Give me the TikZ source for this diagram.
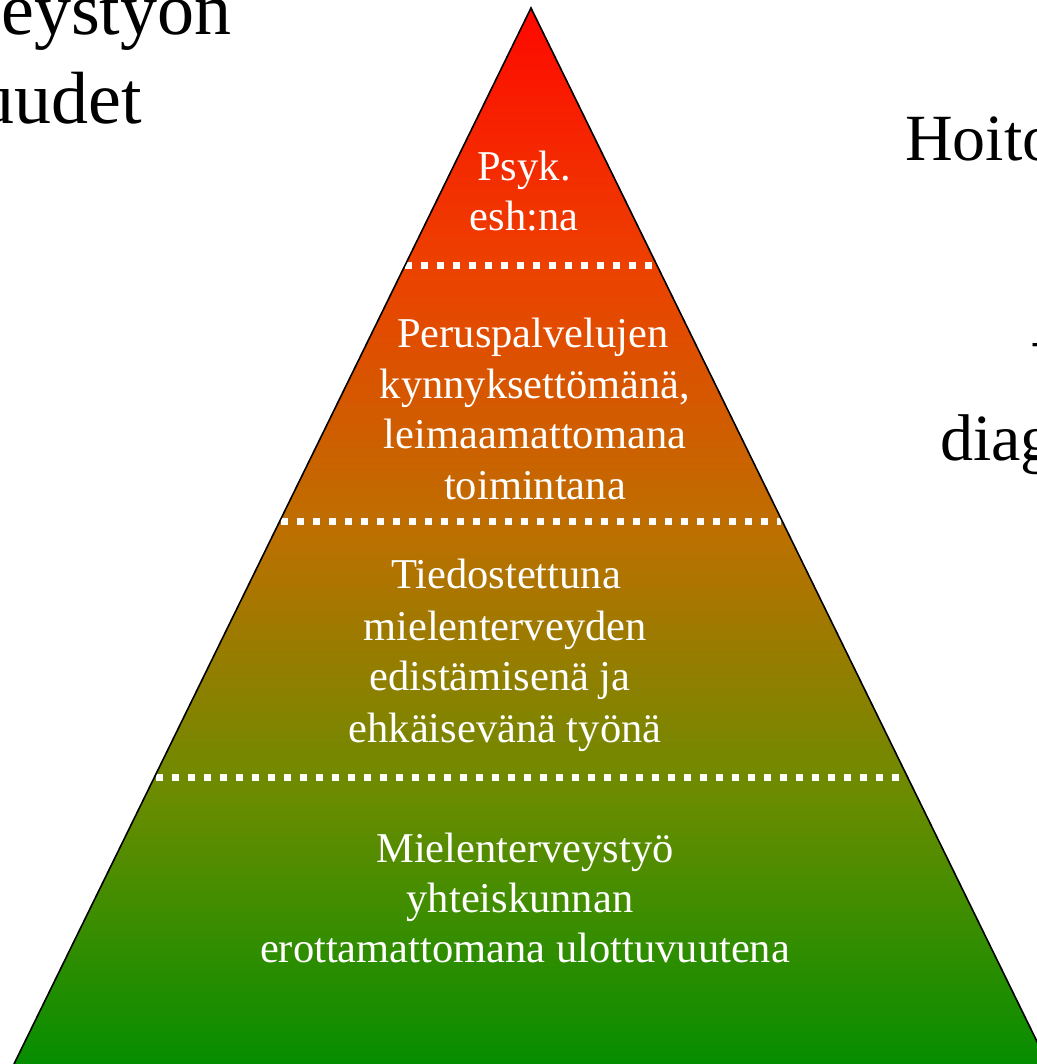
\documentclass[tikz,border=0pt]{standalone}
\usepackage{fontspec}
\setmainfont{Liberation Serif}
\newcommand\pyrfnt{\fontsize{42.5bp}{51bp}\selectfont}
\newcommand\outfnt{\fontsize{74bp}{88bp}\selectfont}
\newcommand\sidefnt{\fontsize{66bp}{80bp}\selectfont}
\definecolor{cA}{RGB}{255,8,0}
\definecolor{cB}{RGB}{236,66,0}
\definecolor{cC}{RGB}{188,112,0}
\definecolor{cD}{RGB}{105,140,0}
\definecolor{cE}{RGB}{5,142,0}
\pgfdeclareverticalshading{pyrshade}{100bp}{color(0bp)=(cE); color(25bp)=(cE); color(37.5bp)=(cD); color(50bp)=(cC); color(62.5bp)=(cB); color(75bp)=(cA); color(100bp)=(cA)}
\tikzset{
  lbl/.style={text=white, anchor=base, inner sep=0pt, font=\pyrfnt},
  outer/.style={text=black, anchor=base west, inner sep=0pt, font=\outfnt},
  side/.style={text=black, anchor=base west, inner sep=0pt, font=\sidefnt},
  dotline/.style={white, line width=7bp, dash pattern=on 7bp off 9bp},
  edge/.style={black, line width=1.6bp, line join=miter}
}
\begin{document}
\begin{tikzpicture}[x=1bp, y=-1bp]
\useasboundingbox (0,0) rectangle (1037,1064);
\clip (0,0) rectangle (1037,1064);
\fill[white] (0,0) rectangle (1037,1064);
% pyramid
\coordinate (apex) at (531,8);
\coordinate (bl) at (14,1064);
\coordinate (br) at (1048,1064);
\shade[shading=pyrshade] (apex) -- (bl) -- (br) -- cycle;
% dotted separators
\coordinate (d1l) at (405,265); \coordinate (d1r) at (657,265);
\coordinate (d2l) at (281,521); \coordinate (d2r) at (781,521);
\coordinate (d3l) at (156,777); \coordinate (d3r) at (906,777);
\draw[dotline] (d1l) -- (d1r);
\draw[dotline] (d2l) -- (d2r);
\draw[dotline] (d3l) -- (d3r);
\draw[edge] (bl) -- (apex) -- (br);
% level 1
\node[lbl] (t11) at (524,180) {Psyk.};
\node[lbl] (t12) at (524,230) {esh:na};
% level 2
\node[lbl] (t21) at (533,347) {Peruspalvelujen};
\node[lbl] (t22) at (535,398) {kynnyksettömänä,};
\node[lbl] (t23) at (535,448) {leimaamattomana};
\node[lbl] (t24) at (535,499) {toimintana};
% level 3
\node[lbl] (t31) at (506,588) {Tiedostettuna};
\node[lbl] (t32) at (505,640) {mielenterveyden};
\node[lbl] (t33) at (500,690) {edistämisenä ja};
\node[lbl] (t34) at (505,742) {ehkäisevänä työnä};
% level 4
\node[lbl] (t41) at (525,862) {Mielenterveystyö};
\node[lbl] (t42) at (520,912) {yhteiskunnan};
\node[lbl] (t43) at (525,962) {erottamattomana ulottuvuutena};
% outer texts (cut by page edge)
\node[outer] (o1) at (1,34) {eystyön};
\node[outer] (o2) at (-23,123) {uudet};
\node[side] (s1) at (905,160) {Hoito};
\node[side] (s2) at (1033,360) {–};
\node[side] (s3) at (940,460) {diag};
\end{tikzpicture}
\end{document}
